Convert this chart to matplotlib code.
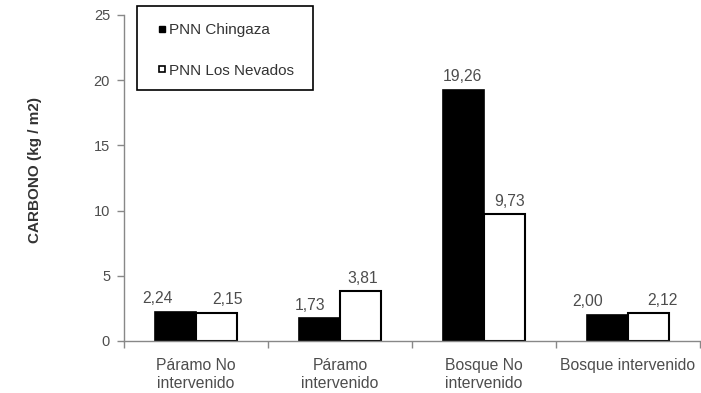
import numpy as np
import matplotlib.pyplot as plt
from matplotlib.lines import Line2D
from matplotlib.patches import Rectangle
from matplotlib.transforms import offset_copy

plt.rcParams['font.family'] = ['Liberation Sans', 'DejaVu Sans']

categorias = ['Páramo No\nintervenido', 'Páramo\nintervenido',
              'Bosque No\nintervenido', 'Bosque intervenido']
chingaza = [2.24, 1.73, 19.26, 2.00]
nevados = [2.15, 3.81, 9.73, 2.12]
series = ['PNN Chingaza', 'PNN Los Nevados']

# horizontal nudges (points) for the value labels of each series
desp_chingaza = [-13, -6.5, -0.5, -14.5]
desp_nevados = [8, 1.5, 3.5, 10]

gris = '#4d4d4d'
eje = '#888888'

fig = plt.figure(figsize=(7.01, 3.93), dpi=100)
ax = fig.add_axes([124/701, 52/393, 576/701, 326/393])

x = np.arange(len(categorias))
w = 0.285
b1 = ax.bar(x - w/2, chingaza, w, color='black', edgecolor='black', linewidth=1.2)
b2 = ax.bar(x + w/2, nevados, w, color='white', edgecolor='black', linewidth=1.5)

def fmt(v):
    return ('%.2f' % v).replace('.', ',')

for bars, vals, desp in ((b1, chingaza, desp_chingaza), (b2, nevados, desp_nevados)):
    for r, v, d in zip(bars, vals, desp):
        tr = offset_copy(ax.transData, fig=fig, x=d, y=4, units='points')
        ax.text(r.get_x() + r.get_width()/2, v, fmt(v), transform=tr,
                ha='center', va='bottom', fontsize=11.3, color=gris)

ax.set_xlim(-0.5, len(categorias) - 0.5)
ax.set_ylim(0, 25)
ax.set_yticks(range(0, 26, 5))
ax.tick_params(axis='y', labelsize=10.5, colors=eje, labelcolor=gris, length=5, width=1, pad=5)

# boundary ticks on the x axis, names centred on each group
ax.set_xticks(np.arange(-0.5, len(categorias)), minor=False)
ax.set_xticklabels([])
ax.tick_params(axis='x', length=5, colors=eje, width=1)
ax.set_xticks(x, minor=True)
ax.set_xticklabels(categorias, minor=True, fontsize=11.3, color=gris, linespacing=1.3)
ax.tick_params(axis='x', which='minor', length=0, pad=12)

for s in ('top', 'right'):
    ax.spines[s].set_visible(False)
for s in ('left', 'bottom'):
    ax.spines[s].set_color(eje)
    ax.spines[s].set_linewidth(1)

fig.text(35/701, 1 - 170/393, 'CARBONO (kg / m2)', rotation=90, ha='center', va='center',
         fontsize=11, fontweight='bold', color='#333333')

handles = [Line2D([], [], marker='s', ls='', markersize=4.5, markerfacecolor='black',
                  markeredgecolor='black'),
           Line2D([], [], marker='s', ls='', markersize=4.5, markerfacecolor='white',
                  markeredgecolor='black', markeredgewidth=1.2)]
leg = fig.legend(handles, series, loc='upper left', bbox_to_anchor=(145/701, 1 - 10/393),
                 fontsize=11, handlelength=0.5, handletextpad=0.25, labelspacing=1.75,
                 borderpad=0.85, borderaxespad=0, frameon=False)
for t in leg.get_texts():
    t.set_color('#333333')
fig.patches.append(Rectangle((137/701, 1 - 90/393), 176/701, 84/393, transform=fig.transFigure,
                             fill=False, edgecolor='black', linewidth=1.2))

fig.savefig('out.png', dpi=100)
